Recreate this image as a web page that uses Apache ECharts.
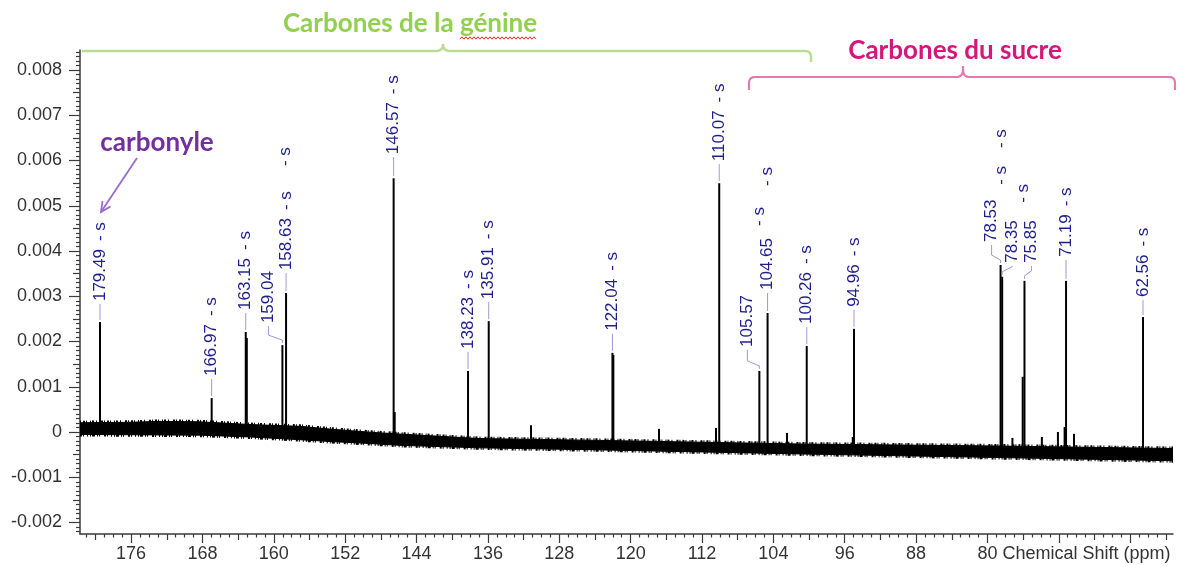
<!DOCTYPE html>
<html>
<head>
<meta charset="utf-8">
<script src="https://cdn.jsdelivr.net/npm/echarts@6/dist/echarts.min.js"></script>
<style>
  html, body { margin: 0; padding: 0; background: #fff; }
  #chart { width: 1178px; height: 566px; }
</style>
</head>
<body>
<div id="chart"></div>
<script>
// 13C NMR spectrum: picked peaks (ppm) with their intensities
const peakShifts = [179.49, 166.97, 163.15, 159.04, 158.63, 146.57, 138.23, 135.91, 122.04, 110.07,
                    105.57, 104.65, 100.26, 94.96, 78.53, 78.35, 75.85, 71.19, 62.56];
const peakHeights = [0.00243, 0.00075, 0.00221, 0.00192, 0.00307, 0.00561, 0.00135, 0.00245, 0.00175, 0.00550,
                     0.00135, 0.00263, 0.00190, 0.00228, 0.00369, 0.00343, 0.00334, 0.00334, 0.00254];
const peakMultiplets = ['s', 's', 's', 's', 's', 's', 's', 's', 's', 's',
                        's', 's', 's', 's', 's', 's', 's', 's', 's'];

// small unlabelled signals sitting on the baseline
const minorShifts  = [163.03, 146.45, 131.17, 121.94, 116.82, 110.43, 102.47, 95.10, 77.20, 76.05, 73.90, 72.10, 71.35, 70.30];
const minorHeights = [0.00208, 0.00044, 0.00015, 0.00170, 0.00007, 0.00009, -0.00002, -0.00011, -0.00013, 0.00122, -0.00011, 0.00000, 0.00011, -0.00004];

// baseline noise band: upper / lower envelope of the noise (units of 1e-6)
const baselinePpm   = [181.73, 176.13, 172.76, 168.28, 162.67, 157.07, 153.71, 149.22, 145.86, 136.89, 123.44, 101.02, 78.59, 59.20];
const baselineUpper = [205, 215, 235, 225, 165, 125, 65, -5, -45, -145, -185, -265, -310, -365];
const baselineLower = [-55, -60, -65, -70, -110, -170, -210, -255, -295, -350, -395, -485, -565, -635];
const BASELINE_UNIT = 1e-6;

// axis tick labels
const xTickLabels = [176, 168, 160, 152, 144, 136, 128, 120, 112, 104, 96, 88, 80];
const yTickLabels = [-0.002, -0.001, 0, 0.001, 0.002, 0.003, 0.004, 0.005, 0.006, 0.007, 0.008];
const xAxisTitle = 'Chemical Shift (ppm)';

// label placement for crowded peaks: dx = sideways shift of the label (px),
// gap = distance from peak top to the number (px), s = position of the "- s" tag
const labelLayout = [
  { dx: 0, gap: 21 }, { dx: 0, gap: 22 }, { dx: 0, gap: 22 },
  { dx: -14, gap: 22, s: [3, -179] }, { dx: 0, gap: 23 },
  { dx: 0, gap: 24 }, { dx: 0, gap: 22 }, { dx: 0, gap: 22 }, { dx: 0, gap: 22 }, { dx: 0, gap: 22 },
  { dx: -12, gap: 24, s: [0, -145] }, { dx: 0, gap: 23, s: [0, -127] },
  { dx: 0, gap: 22 }, { dx: 0, gap: 22 },
  { dx: -9, gap: 23, s: [1, -117] }, { dx: 10, gap: 14, s: [-1, -92] }, { dx: 7, gap: 18, s: [-1, -78] },
  { dx: 0, gap: 24 }, { dx: 0, gap: 20 }
];

const X_MIN = 59.2, X_MAX = 181.73;
const Y_MIN = -0.002254, Y_MAX = 0.008442;

const LABEL_FONT_FAMILY = 'Liberation Sans';
const LABEL_SIZE = 17;
const AXIS_COLOR = '#3a3a3a';
const PEAK_TEXT = '#1f1f8c';
const PEAK_LEADER = '#9b9bd3';

const measureCtx = document.createElement('canvas').getContext('2d');
function textWidth(str, font) {
  measureCtx.font = font;
  return measureCtx.measureText(str).width;
}

function lerpAt(xs, ys, v) {
  for (let i = 0; i < xs.length - 1; i++) {
    const a = xs[i], b = xs[i + 1];
    if ((v <= a && v >= b) || (v >= a && v <= b)) {
      const t = (v - a) / (b - a);
      return ys[i] + t * (ys[i + 1] - ys[i]);
    }
  }
  return ys[ys.length - 1];
}
function baselineCenter(ppm) {
  return BASELINE_UNIT * (lerpAt(baselinePpm, baselineUpper, ppm) + lerpAt(baselinePpm, baselineLower, ppm)) / 2;
}

// tick positions
const xMajor = [], xMid = [], xMinor = [];
for (let v = 60; v <= 181; v++) {
  if (v % 8 === 0) xMajor.push(v);
  else if (v % 4 === 0) xMid.push(v);
  else xMinor.push(v);
}
const yMajor = [], yMid = [], yMinor = [];
for (let k = -22; k <= 84; k++) {
  const v = k / 10000;
  if (k % 10 === 0) yMajor.push(v);
  else if (k % 5 === 0) yMid.push(v);
  else yMinor.push(v);
}

// noise band: solid core plus a ragged dashed outline for the noisy edges
function renderBand(params, api) {
  if (params.dataIndex !== 0) return;
  const top = [], bottom = [];
  for (let i = 0; i < baselinePpm.length; i++) {
    top.push(api.coord([baselinePpm[i], baselineUpper[i] * BASELINE_UNIT]));
    bottom.push(api.coord([baselinePpm[i], baselineLower[i] * BASELINE_UNIT]));
  }
  const poly = top.concat(bottom.slice().reverse());
  const ragged = { stroke: '#000', lineWidth: 4, fill: null, lineDash: [1, 2, 2, 1, 1, 3, 1, 1, 2, 2, 1, 4, 2, 1], lineCap: 'butt' };
  return {
    type: 'group',
    children: [
      { type: 'polygon', shape: { points: poly }, style: { fill: '#000', stroke: '#000', lineWidth: 1 } },
      { type: 'polyline', shape: { points: top }, style: ragged },
      { type: 'polyline', shape: { points: bottom }, style: Object.assign({}, ragged, { lineDash: [2, 1, 1, 3, 1, 2, 1, 1, 3, 2, 1, 1, 1, 4] }) }
    ]
  };
}

function renderPeak(params, api) {
  const ppm = api.value(0), h = api.value(1), idx = api.value(2);
  const b = api.coord([ppm, baselineCenter(ppm)]);
  const t = api.coord([ppm, h]);
  const x = t[0], top = t[1];
  const children = [{
    type: 'line',
    shape: { x1: x, y1: b[1], x2: x, y2: top },
    style: { stroke: '#000', lineWidth: 2 }
  }];
  if (idx >= 0) {
    const lay = labelLayout[idx];
    const lx = x + lay.dx;
    const pts = lay.dx === 0
      ? [[x, top - 2], [x, top - lay.gap + 3]]
      : [[x, top - 2], [x, top - 5], [lx, top - 10], [lx, top - lay.gap + 3]];
    children.push({
      type: 'polyline',
      shape: { points: pts },
      style: { stroke: PEAK_LEADER, lineWidth: 1, fill: null }
    });
    const txt = peakShifts[idx].toFixed(2);
    children.push({
      type: 'text', x: lx, y: top - lay.gap, rotation: Math.PI / 2,
      style: { text: txt, fontSize: LABEL_SIZE, fontFamily: LABEL_FONT_FAMILY, fill: PEAK_TEXT, align: 'left', verticalAlign: 'middle' }
    });
    const w = textWidth(txt, LABEL_SIZE + 'px "' + LABEL_FONT_FAMILY + '"');
    let sx = lx, sy = top - lay.gap - w - 8;
    if (lay.s) { sx = x + lay.s[0]; sy = top + lay.s[1]; }
    children.push({
      type: 'text', x: sx, y: sy, rotation: Math.PI / 2,
      style: { text: '- ' + peakMultiplets[idx], fontSize: LABEL_SIZE, fontFamily: LABEL_FONT_FAMILY, fill: PEAK_TEXT, align: 'left', verticalAlign: 'middle' }
    });
  }
  return { type: 'group', children };
}

const chart = echarts.init(document.getElementById('chart'), null, { renderer: 'canvas' });

const xBase = { type: 'value', min: X_MIN, max: X_MAX, inverse: true, position: 'bottom', splitLine: { show: false } };
const yBase = { type: 'value', min: Y_MIN, max: Y_MAX, position: 'left', offset: 0, splitLine: { show: false } };
const tickLine = { color: AXIS_COLOR, width: 1.2 };

chart.setOption({
  animation: false,
  backgroundColor: '#fff',
  grid: { left: 80, right: 5, top: 50, bottom: 32, containLabel: false },
  xAxis: [
    Object.assign({}, xBase, {
      axisLine: { show: true, onZero: false, lineStyle: { color: AXIS_COLOR, width: 1.5 } },
      axisTick: { show: true, customValues: xMajor, length: 9, lineStyle: tickLine },
      axisLabel: {
        show: true, customValues: xTickLabels.slice(0, -1), margin: 11,
        fontSize: 18, fontFamily: LABEL_FONT_FAMILY, color: '#333',
        formatter: v => String(v)
      }
    }),
    Object.assign({}, xBase, {
      axisLine: { show: false, onZero: false },
      axisTick: { show: true, customValues: xMid, length: 6, lineStyle: tickLine },
      axisLabel: { show: false }
    }),
    Object.assign({}, xBase, {
      axisLine: { show: false, onZero: false },
      axisTick: { show: true, customValues: xMinor, length: 3.5, lineStyle: tickLine },
      axisLabel: { show: false }
    })
  ],
  yAxis: [
    Object.assign({}, yBase, {
      axisLine: { show: true, onZero: false, lineStyle: { color: AXIS_COLOR, width: 1.5 } },
      axisTick: { show: true, customValues: yMajor, length: 11, lineStyle: tickLine },
      axisLabel: {
        show: true, customValues: yTickLabels, margin: 18,
        fontSize: 18, fontFamily: LABEL_FONT_FAMILY, color: '#333',
        formatter: v => (Math.abs(v) < 1e-9 ? '0' : v.toFixed(3))
      }
    }),
    Object.assign({}, yBase, {
      axisLine: { show: false, onZero: false },
      axisTick: { show: true, customValues: yMid, length: 7, lineStyle: tickLine },
      axisLabel: { show: false }
    }),
    Object.assign({}, yBase, {
      axisLine: { show: false, onZero: false },
      axisTick: { show: true, customValues: yMinor, length: 4, lineStyle: tickLine },
      axisLabel: { show: false }
    })
  ],
  series: [
    {
      type: 'custom', name: 'baseline', xAxisIndex: 0, yAxisIndex: 0,
      data: [[X_MIN, 0]], renderItem: renderBand, clip: true, silent: true
    },
    {
      type: 'custom', name: 'minor', xAxisIndex: 0, yAxisIndex: 0,
      encode: { x: 0, y: 1 },
      data: minorShifts.map((s, i) => [s, minorHeights[i], -1]),
      renderItem: renderPeak, clip: true, silent: true
    },
    {
      type: 'custom', name: 'peaks', xAxisIndex: 0, yAxisIndex: 0,
      encode: { x: 0, y: 1 },
      data: peakShifts.map((s, i) => [s, peakHeights[i], i]),
      renderItem: renderPeak, clip: false, silent: true
    }
  ]
});

// annotations: region braces, titles, carbonyl arrow, axis title
function quad(p0, c, p1, n) {
  const out = [];
  for (let i = 1; i <= n; i++) {
    const t = i / n, u = 1 - t;
    out.push([u * u * p0[0] + 2 * u * t * c[0] + t * t * p1[0], u * u * p0[1] + 2 * u * t * c[1] + t * t * p1[1]]);
  }
  return out;
}

const TITLE_FONT = 'Lato';
const geninTitle = 'Carbones de la génine';
const geninSize = 26;
const geninW = textWidth(geninTitle, 'bold ' + geninSize + 'px ' + TITLE_FONT);
const geninCx = 410, geninCy = 24;
const wordW = textWidth('génine', 'bold ' + geninSize + 'px ' + TITLE_FONT);
const waveRight = geninCx + geninW / 2, waveLeft = waveRight - wordW;
const wave = [];
for (let px = waveLeft, k = 0; px <= waveRight; px += 2, k++) wave.push([px, geninCy + 14 + (k % 2 ? -1.2 : 1.2)]);

const greenBrace = [[82, 51], [436, 51]]
  .concat(quad([436, 51], [443, 51], [443, 44], 6))
  .concat(quad([443, 44], [443, 51], [450, 51], 6))
  .concat([[805, 51]])
  .concat(quad([805, 51], [811, 51], [811, 57], 6))
  .concat([[811, 62]]);
const pinkBrace = [[749, 90], [749, 83]]
  .concat(quad([749, 83], [749, 77], [755, 77], 6))
  .concat([[956, 77]])
  .concat(quad([956, 77], [963, 77], [963, 70], 6))
  .concat([[963, 66], [963, 70]])
  .concat(quad([963, 70], [963, 77], [970, 77], 6))
  .concat([[1169, 77]])
  .concat(quad([1169, 77], [1175, 77], [1175, 83], 6))
  .concat([[1175, 90]]);

const x80 = chart.convertToPixel({ xAxisIndex: 0 }, 80);
const w80 = textWidth('80', '18px "' + LABEL_FONT_FAMILY + '"');
const axisBottom = chart.convertToPixel({ yAxisIndex: 0 }, Y_MIN);

// arrow for the carbonyl
const a0 = [137, 158], a1 = [101, 212];
const ang = Math.atan2(a0[1] - a1[1], a0[0] - a1[0]);
const head = [ang - 0.45, ang + 0.45].map(a => [a1[0] + 11 * Math.cos(a), a1[1] + 11 * Math.sin(a)]);

chart.setOption({
  graphic: [
    { type: 'text', x: geninCx, y: geninCy,
      style: { text: geninTitle, fontFamily: TITLE_FONT, fontWeight: 'bold', fontSize: geninSize, fill: '#92d050', align: 'center', verticalAlign: 'middle' } },
    { type: 'polyline', shape: { points: wave }, style: { stroke: '#e03030', lineWidth: 1, fill: null } },
    { type: 'polyline', shape: { points: greenBrace }, style: { stroke: '#b9dd95', lineWidth: 2.5, fill: null } },
    { type: 'text', x: 955, y: 51,
      style: { text: 'Carbones du sucre', fontFamily: TITLE_FONT, fontWeight: 'bold', fontSize: 26, fill: '#d4177a', align: 'center', verticalAlign: 'middle' } },
    { type: 'polyline', shape: { points: pinkBrace }, style: { stroke: '#e678b4', lineWidth: 2.2, fill: null } },
    { type: 'text', x: 157, y: 143,
      style: { text: 'carbonyle', fontFamily: TITLE_FONT, fontWeight: 'bold', fontSize: 26, fill: '#7030a0', align: 'center', verticalAlign: 'middle' } },
    { type: 'polyline', shape: { points: [a0, a1] }, style: { stroke: '#9a6cc8', lineWidth: 1.8, fill: null } },
    { type: 'polyline', shape: { points: [head[0], a1, head[1]] }, style: { stroke: '#9a6cc8', lineWidth: 1.8, fill: null } },
    { type: 'text', x: x80 - w80 / 2, y: axisBottom + 11,
      style: { text: '80 ' + xAxisTitle, fontFamily: LABEL_FONT_FAMILY, fontSize: 18, fill: '#333', align: 'left', verticalAlign: 'top' } }
  ]
});
</script>
</body>
</html>
